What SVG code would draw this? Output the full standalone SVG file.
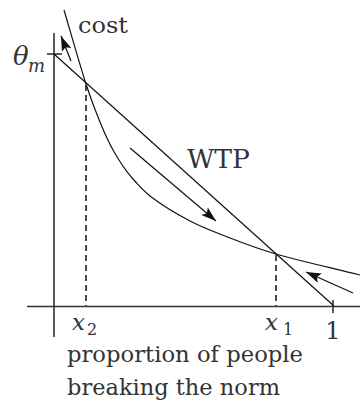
<svg xmlns="http://www.w3.org/2000/svg" width="360" height="402" viewBox="0 0 360 402">
<style>
.ax{stroke:#333;stroke-width:1.6;fill:none}
.ln{stroke:#111;stroke-width:1.2;fill:none}
.ds{stroke:#111;stroke-width:1.5;fill:none;stroke-dasharray:6,4}
.ar{stroke:#111;stroke-width:1.2;fill:none;marker-end:url(#ah)}
text{fill:#333;font-family:'DejaVu Serif','Liberation Serif',serif}
.i{font-style:italic}
</style>
<defs>
<marker id="ah" markerUnits="userSpaceOnUse" markerWidth="16" markerHeight="12" refX="15" refY="5" orient="auto">
<path d="M0,0 L15,5 L0,10 L3,5 z" fill="#111"/>
</marker>
</defs>
<rect width="360" height="402" fill="#fff"/>
<g id="axes">
<line class="ax" x1="54" y1="33" x2="54" y2="337"/>
<line class="ax" x1="27" y1="306.5" x2="360" y2="306.5"/>
<line class="ax" x1="47" y1="54" x2="62" y2="54"/>
<line class="ax" x1="333" y1="300" x2="333" y2="313"/>
</g>
<g id="curves">
<path id="cost-curve" class="ln" d="M64,10 C71.3,34.7 80,65.3 86,84 C92,102.7 95.5,111 100,122 C104.5,133 107.5,140.3 113,150 C118.5,159.7 125.8,171.2 133,179 C140.2,186.8 142.5,190.2 150,196 C159.5,203.3 177.5,214.5 190,221 C202.5,227.5 210.7,230.5 225,236 C239.3,241.5 253.5,247.5 276,254 C298.5,260.5 332,268 360,275"/>
<line id="wtp-line" class="ln" x1="54" y1="54" x2="334" y2="306"/>
</g>
<g id="connectors">
<line class="ds" x1="86" y1="85" x2="86" y2="306"/>
<line class="ds" x1="276" y1="255" x2="276" y2="306"/>
<line class="ar" x1="71" y1="61" x2="61" y2="36"/>
<line class="ar" x1="130" y1="148" x2="216" y2="221"/>
<line class="ar" x1="353" y1="293" x2="306" y2="272"/>
</g>
<g id="labels">
<text x="78" y="33" font-size="22" textLength="50" lengthAdjust="spacingAndGlyphs">cost</text>
<text x="187" y="168" font-size="26" textLength="63" lengthAdjust="spacingAndGlyphs">WTP</text>
<text class="i" x="13" y="65" font-size="26">θ</text>
<text class="i" x="28" y="72" font-size="18">m</text>
<text class="i" x="72" y="330" font-size="23">x</text>
<text x="87" y="335" font-size="16">2</text>
<text class="i" x="265" y="330" font-size="23">x</text>
<text x="283" y="335" font-size="16">1</text>
<text x="333" y="339" font-size="24" text-anchor="middle">1</text>
<text x="67" y="362" font-size="23" textLength="236" lengthAdjust="spacingAndGlyphs">proportion of people</text>
<text x="67" y="395" font-size="23" textLength="213" lengthAdjust="spacingAndGlyphs">breaking the norm</text>
</g>
</svg>
